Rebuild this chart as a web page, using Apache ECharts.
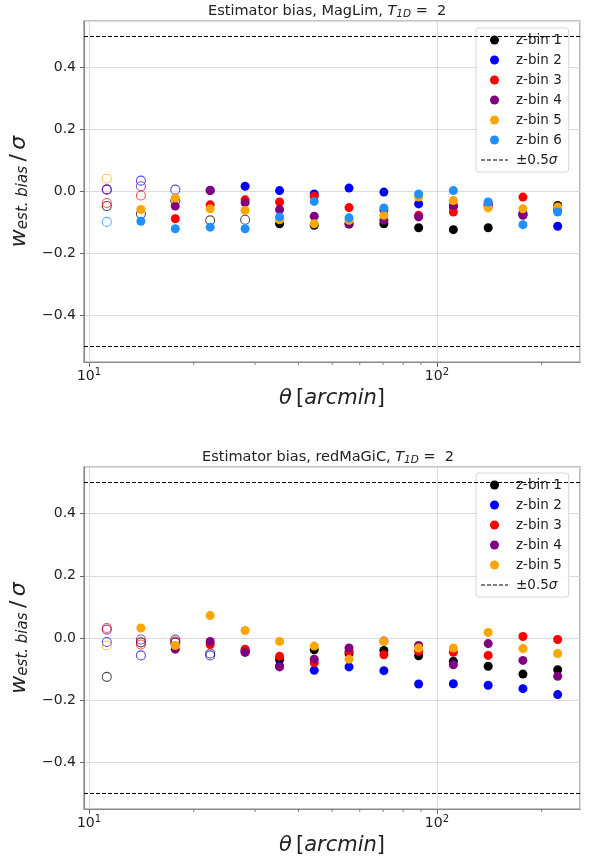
<!DOCTYPE html>
<html><head><meta charset="utf-8">
<script src="https://cdn.jsdelivr.net/npm/echarts@6/dist/echarts.min.js"></script>
<style>html,body{margin:0;padding:0;background:#fff}#c{width:598px;height:859px}</style>
</head><body><div id="c"></div>
<script>
// ---- data ----
const theta = [11.25, 14.1, 17.7, 22.3, 28.1, 35.3, 44.4, 55.9, 70.4, 88.6, 111.5, 140.4, 176.7, 222.4];
const binNamesMag = ['z-bin 1','z-bin 2','z-bin 3','z-bin 4','z-bin 5','z-bin 6'];
const binNamesRm  = ['z-bin 1','z-bin 2','z-bin 3','z-bin 4','z-bin 5'];
const sigmaLabel = '±0.5σ';
const sigmaLevels = [0.5, -0.5];

const magBin1 = [-0.047,-0.072,-0.030,-0.093,-0.091,-0.104,-0.109,-0.105,-0.104,-0.117,-0.123,-0.117,-0.075,-0.045];
const magBin2 = [0.006,0.035,0.006,0.004,0.017,0.003,-0.008,0.011,-0.002,-0.040,-0.050,-0.045,-0.070,-0.112];
const magBin3 = [-0.037,-0.013,-0.088,-0.043,-0.027,-0.034,-0.015,-0.052,-0.061,-0.077,-0.066,-0.036,-0.018,-0.055];
const magBin4 = [0.007,0.017,-0.047,0.003,-0.036,-0.059,-0.080,-0.104,-0.093,-0.082,-0.045,-0.045,-0.077,-0.060];
const magBin5 = [0.041,-0.058,-0.021,-0.056,-0.061,-0.091,-0.104,-0.093,-0.077,-0.018,-0.029,-0.053,-0.056,-0.050];
const magBin6 = [-0.098,-0.096,-0.120,-0.115,-0.120,-0.082,-0.032,-0.085,-0.053,-0.008,0.003,-0.034,-0.107,-0.066];
const magCuts = [5, 3, 2, 2, 1, 1];   // number of small-scale (open) points per bin

const rmBin1 = [-0.125,-0.014,-0.015,-0.050,-0.040,-0.070,-0.038,-0.050,-0.040,-0.057,-0.075,-0.091,-0.116,-0.102];
const rmBin2 = [-0.013,-0.056,-0.005,-0.056,-0.045,-0.090,-0.104,-0.093,-0.105,-0.148,-0.147,-0.152,-0.163,-0.182];
const rmBin3 = [0.032,-0.021,-0.011,-0.021,-0.036,-0.059,-0.080,-0.043,-0.054,-0.043,-0.046,-0.056,0.005,-0.005];
const rmBin4 = [0.027,-0.005,-0.036,-0.011,-0.046,-0.093,-0.068,-0.032,-0.010,-0.024,-0.086,-0.018,-0.072,-0.123];
const rmBin5 = [-0.024,0.032,-0.024,0.072,0.024,-0.011,-0.026,-0.068,-0.011,-0.032,-0.032,0.018,-0.034,-0.050];
const rmCuts = [4, 4, 3, 2, 1];

const xMin = 9.674, xMax = 257.8;
const yMin = -0.55, yMax = 0.55;
const xMinorTicks = [20,30,40,50,60,70,80,90,200];

// ---- styles ----
const FONT = 'DejaVu Sans';
const colors = ['#000000','#0000ff','#ff0000','#800080','#ffa500','#1e90ff'];
const grids = [
  {left: 84, top: 21, width: 496, height: 341},
  {left: 84, top: 467, width: 496, height: 342}
];
const dashIcon = 'path://M0,0h4v1h-4z M6,0h4v1h-4z M12,0h4v1h-4z M18,0h4v1h-4z M24,0h3v1h-3z';

function pointSeries(name, vals, cut, color, gi) {
  return {
    type: 'scatter', name: name, xAxisIndex: gi, yAxisIndex: gi,
    symbol: 'circle', symbolSize: 9,
    itemStyle: {color: color, opacity: 1},
    emphasis: {disabled: true},
    data: vals.map((v, i) => i < cut
      ? {value: [theta[i], v], itemStyle: {color: 'rgba(255,255,255,0)', borderColor: color, borderWidth: 1.1, opacity: 0.7}}
      : [theta[i], v])
  };
}
function sigmaSeries(gi) {
  return {
    type: 'line', name: sigmaLabel, xAxisIndex: gi, yAxisIndex: gi, data: [],
    symbol: 'none',
    lineStyle: {color: '#000', type: [4, 2], width: 1},
    itemStyle: {color: '#000'},
    markLine: {silent: true, symbol: 'none', label: {show: false},
      lineStyle: {color: '#000', type: [4, 2], width: 1},
      data: sigmaLevels.map(v => ({yAxis: v}))}
  };
}
function minorTickSeries(gi) {
  return {
    type: 'custom', xAxisIndex: gi, yAxisIndex: gi, silent: true, clip: false,
    data: xMinorTicks.map(v => [v, yMin]),
    renderItem: (params, api) => {
      const p = api.coord([api.value(0), api.value(1)]);
      return {type: 'line', shape: {x1: p[0], y1: p[1], x2: p[0], y2: p[1] + 3},
        style: {stroke: '#666', lineWidth: 0.8}};
    }
  };
}
function xAxis(gi) {
  return {
    type: 'log', logBase: 10, gridIndex: gi, min: xMin, max: xMax,
    axisLine: {show: true, onZero: false, lineStyle: {color: '#8a8a8a', width: 1.2}},
    axisTick: {show: true, length: 5, lineStyle: {color: '#666'}},
    splitLine: {show: true, lineStyle: {color: '#dcdcdc', width: 1}},
    axisLabel: {
      fontFamily: FONT, fontSize: 14, color: '#222', margin: 5,
      showMinLabel: false, showMaxLabel: false,
      formatter: v => {
        const e = Math.round(Math.log10(v));
        return Math.abs(Math.log10(v) - e) < 1e-6 ? '{b|10}{s|' + e + '}' : '';
      },
      rich: {b: {fontFamily: FONT, fontSize: 14, color: '#222'},
             s: {fontFamily: FONT, fontSize: 10, color: '#222', padding: [0, 0, 8, 0]}}
    },
    name: '{i|θ}{n|\u2009[}{i|arcmin}{n|]}',
    nameLocation: 'middle', nameGap: 26,
    nameTextStyle: {fontFamily: FONT, fontSize: 21, color: '#222',
      rich: {i: {fontFamily: FONT, fontSize: 21, fontStyle: 'italic', color: '#222'},
             n: {fontFamily: FONT, fontSize: 21, color: '#222'}}}
  };
}
function yAxis(gi) {
  return {
    type: 'value', gridIndex: gi, min: yMin, max: yMax,
    axisLine: {show: true, lineStyle: {color: '#8a8a8a', width: 1.2}},
    axisTick: {show: true, length: 4, lineStyle: {color: '#666'}},
    splitLine: {show: true, lineStyle: {color: '#dcdcdc', width: 1}},
    axisLabel: {
      fontFamily: FONT, fontSize: 14, color: '#222', margin: 8,
      showMinLabel: false, showMaxLabel: false,
      formatter: v => Math.abs(v * 5 - Math.round(v * 5)) < 1e-6 ? v.toFixed(1).replace('-', '\u2212') : ''
    },
    name: '{w|w}{s|est. bias}{n|\u2009/\u2009}{w|σ}',
    nameLocation: 'middle', nameGap: 41, nameRotate: 90,
    nameTextStyle: {fontFamily: FONT, fontSize: 21, color: '#222',
      rich: {w: {fontFamily: FONT, fontSize: 22, fontStyle: 'italic', color: '#222'},
             s: {fontFamily: FONT, fontSize: 15, fontStyle: 'italic', color: '#222', padding: [9, 0, 0, 0]},
             n: {fontFamily: FONT, fontSize: 22, color: '#222'}}}
  };
}
function legend(names, top) {
  return {
    orient: 'vertical', left: 476, top: top,
    data: names.map(n => ({name: n, icon: 'circle'})).concat([{name: sigmaLabel, icon: dashIcon}]),
    itemWidth: 27, itemHeight: 9, itemGap: 4,
    padding: [4, 7, 4, 5],
    backgroundColor: 'rgba(255,255,255,0.85)', borderColor: '#d6d6d6', borderWidth: 1, borderRadius: 3,
    selectedMode: false,
    formatter: n => n === sigmaLabel ? '±0.5{i|σ}' : n,
    textStyle: {fontFamily: FONT, fontSize: 13.5, color: '#222', lineHeight: 16, padding: [0, 0, 0, 3],
      rich: {i: {fontFamily: FONT, fontSize: 13.5, fontStyle: 'italic', color: '#222'}}}
  };
}
function title(name, left, top) {
  return {
    text: 'Estimator bias, ' + name + ', {t|T}{s|1D}{n| =  2}',
    left: left, top: top, padding: 0,
    textStyle: {fontFamily: FONT, fontSize: 14.5, fontWeight: 'normal', color: '#222',
      rich: {t: {fontFamily: FONT, fontSize: 14.5, fontStyle: 'italic', color: '#222'},
             s: {fontFamily: FONT, fontSize: 10.5, fontStyle: 'italic', color: '#222', padding: [6, 0, 0, 0]},
             n: {fontFamily: FONT, fontSize: 14.5, color: '#222'}}}
  };
}

const magVals = [magBin1, magBin2, magBin3, magBin4, magBin5, magBin6];
const rmVals = [rmBin1, rmBin2, rmBin3, rmBin4, rmBin5];
const series = [];
magVals.forEach((v, k) => series.push(pointSeries(binNamesMag[k], v, magCuts[k], colors[k], 0)));
series.push(sigmaSeries(0));
series.push(minorTickSeries(0));
rmVals.forEach((v, k) => series.push(pointSeries(binNamesRm[k], v, rmCuts[k], colors[k], 1)));
series.push(sigmaSeries(1));
series.push(minorTickSeries(1));

const chart = echarts.init(document.getElementById('c'), null, {renderer: 'canvas'});
chart.setOption({
  animation: false,
  backgroundColor: '#fff',
  title: [title('MagLim', 208, 3), title('redMaGiC', 202, 449)],
  grid: grids.map(g => Object.assign({show: true, borderColor: '#8a8a8a', borderWidth: 1.2, backgroundColor: 'transparent'}, g)),
  xAxis: [xAxis(0), xAxis(1)],
  yAxis: [yAxis(0), yAxis(1)],
  legend: [legend(binNamesMag, 28), legend(binNamesRm, 473)],
  series: series
});
</script>
</body></html>
